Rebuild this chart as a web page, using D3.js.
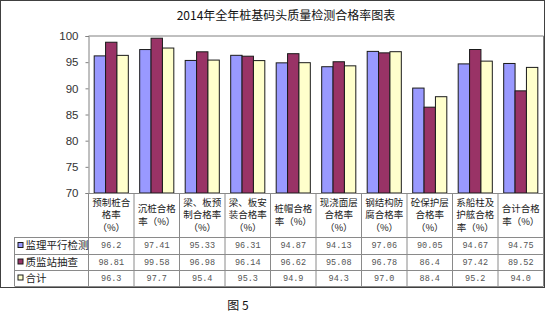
<!DOCTYPE html>
<html>
<head>
<meta charset="utf-8">
<script src="https://cdn.jsdelivr.net/npm/d3@7"></script>
<style>
  html, body { margin: 0; padding: 0; background: #fff; }
  svg { display: block; }
</style>
</head>
<body>
<svg id="chart" width="546" height="322"></svg>
<script>
// Categories (header cells of the data table, wrapped 4 characters per line)
const categories = [
  "预制桩合格率（%）",
  "沉桩合格率（%）",
  "梁、板预制合格率（%）",
  "梁、板安装合格率（%）",
  "桩帽合格率（%）",
  "现浇面层合格率（%）",
  "钢结构防腐合格率（%）",
  "砼保护层合格率（%）",
  "系船柱及护舷合格率（%）",
  "合计合格率（%）"
];
const headerLines = [
  ["预制桩合", "格率", "（%）"],
  ["沉桩合格", "率（%）"],
  ["梁、板预", "制合格率", "（%）"],
  ["梁、板安", "装合格率", "（%）"],
  ["桩帽合格", "率（%）"],
  ["现浇面层", "合格率", "（%）"],
  ["钢结构防", "腐合格率", "（%）"],
  ["砼保护层", "合格率", "（%）"],
  ["系船柱及", "护舷合格", "率（%）"],
  ["合计合格", "率（%）"]
];

const seriesNames = ["监理平行检测", "质监站抽查", "合计"];
const supervision = [96.2, 97.41, 95.33, 96.31, 94.87, 94.13, 97.06, 90.05, 94.67, 94.75];
const stationCheck = [98.81, 99.58, 96.98, 96.14, 96.62, 95.08, 96.78, 86.4, 97.42, 89.52];
const totals = [96.3, 97.7, 95.4, 95.3, 94.9, 94.3, 97.0, 88.4, 95.2, 94.0];
const yTicks = [70, 75, 80, 85, 90, 95, 100];

const seriesValues = [supervision, stationCheck, totals];
const seriesColors = ["#9999FF", "#993366", "#FFFFCC"];
const seriesFormat = [v => String(v), v => String(v), d3.format(".1f")];

const svg = d3.select("#chart");

// layout
const plotL = 88.5, plotR = 543.5, plotT = 36, plotB = 193;
const tableL = 14.5;
const rowLines = [plotB, 237, 254, 270, 286];

// outer frame
svg.append("rect")
  .attr("x", 0.5).attr("y", 0.5).attr("width", 544).attr("height", 287)
  .attr("fill", "none").attr("stroke", "#404040").attr("stroke-width", 1);

// title
svg.append("text")
  .attr("x", 286).attr("y", 20)
  .attr("text-anchor", "middle")
  .attr("font-family", "'Noto Sans CJK SC', sans-serif")
  .attr("font-size", 12)
  .attr("fill", "#111")
  .text("2014年全年桩基码头质量检测合格率图表");

// scales
const x = d3.scaleBand().domain(d3.range(categories.length)).range([plotL, plotR]).padding(0);
const xs = d3.scaleBand().domain(d3.range(seriesNames.length)).range([0, x.bandwidth()])
  .paddingInner(0).paddingOuter(0.5);
const y = d3.scaleLinear().domain([70, 100]).range([plotB, plotT]);

// plot area border (top and right)
svg.append("path")
  .attr("d", `M${plotL},${plotT}H${plotR}V${plotB}`)
  .attr("fill", "none").attr("stroke", "#808080");

// y axis
const yAxis = svg.append("g")
  .attr("transform", `translate(${plotL},0)`)
  .call(d3.axisLeft(y).tickValues(yTicks).tickSize(3).tickPadding(7));
yAxis.select(".domain").attr("stroke", "#808080");
yAxis.selectAll(".tick line").attr("stroke", "#808080");
yAxis.selectAll(".tick text")
  .attr("font-family", "'Liberation Sans', Arial, sans-serif")
  .attr("font-size", 11.5)
  .attr("fill", "#333");

// bars
seriesValues.forEach((vals, si) => {
  svg.append("g")
    .selectAll("rect")
    .data(vals)
    .join("rect")
    .attr("x", (d, i) => x(i) + xs(si))
    .attr("y", d => y(d))
    .attr("width", xs.bandwidth())
    .attr("height", d => plotB - y(d))
    .attr("fill", seriesColors[si])
    .attr("stroke", "#1a1a1a")
    .attr("stroke-width", 1);
});

// data table grid
const grid = svg.append("g").attr("stroke", "#8a8a8a").attr("fill", "none");
rowLines.forEach((ry, k) => {
  grid.append("line")
    .attr("x1", k === 0 ? plotL : tableL).attr("x2", plotR)
    .attr("y1", ry + 0.5).attr("y2", ry + 0.5);
});
d3.range(categories.length + 1).forEach(i => {
  const cx = i < categories.length ? x(i) : plotR;
  grid.append("line")
    .attr("x1", cx).attr("x2", cx)
    .attr("y1", plotB).attr("y2", rowLines[4]);
});
grid.append("line")
  .attr("x1", tableL).attr("x2", tableL)
  .attr("y1", rowLines[1]).attr("y2", rowLines[4]);

// header cells
const cjk = "'Noto Sans CJK SC', sans-serif";
headerLines.forEach((lines, i) => {
  const cx = x(i) + x.bandwidth() / 2;
  const lh = 12.5;
  const mid = (plotB + rowLines[1]) / 2;
  const start = mid - (lines.length - 1) * lh / 2;
  lines.forEach((ln, k) => {
    svg.append("text")
      .attr("x", cx).attr("y", start + k * lh)
      .attr("dy", "0.35em")
      .attr("text-anchor", "middle")
      .attr("font-family", cjk)
      .attr("font-size", 9.5)
      .attr("fill", "#222")
      .text(ln);
  });
});

// legend cells + values
seriesNames.forEach((name, si) => {
  const top = rowLines[si + 1], bot = rowLines[si + 2];
  const cy = (top + bot) / 2;
  svg.append("rect")
    .attr("x", tableL + 3.5).attr("y", cy - 3)
    .attr("width", 5).attr("height", 5)
    .attr("fill", seriesColors[si]).attr("stroke", "#1a1a1a");
  svg.append("text")
    .attr("x", tableL + 11).attr("y", cy)
    .attr("dy", "0.35em")
    .attr("font-family", cjk)
    .attr("font-size", 10.5)
    .attr("fill", "#222")
    .text(name);
  seriesValues[si].forEach((v, i) => {
    svg.append("text")
      .attr("x", x(i) + x.bandwidth() / 2).attr("y", cy)
      .attr("dy", "0.35em")
      .attr("text-anchor", "middle")
      .attr("font-family", "'Liberation Mono', 'DejaVu Sans Mono', monospace")
      .attr("font-size", 8.5)
      .attr("fill", "#555")
      .text(seriesFormat[si](v));
  });
});

// figure caption
svg.append("text")
  .attr("x", 238).attr("y", 306)
  .attr("dy", "0.35em")
  .attr("text-anchor", "middle")
  .attr("font-family", cjk)
  .attr("font-size", 12)
  .attr("fill", "#111")
  .text("图 5");
</script>
</body>
</html>
